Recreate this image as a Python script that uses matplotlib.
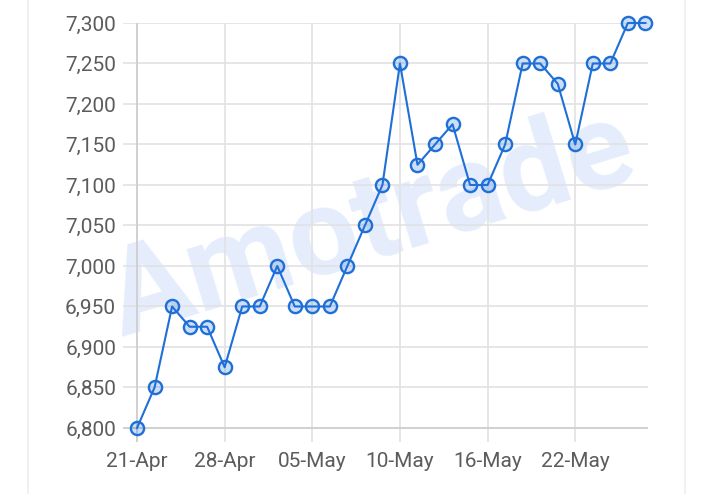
import matplotlib.pyplot as plt
from matplotlib.lines import Line2D

# closing prices, one per trading day
prices = [6800, 6850, 6950, 6925, 6925, 6875, 6950, 6950, 7000, 6950,
          6950, 6950, 7000, 7050, 7100, 7250, 7125, 7150, 7175, 7100,
          7100, 7150, 7250, 7250, 7225, 7150, 7250, 7250, 7300, 7300]
tick_idx = [0, 5, 10, 15, 20, 25]
tick_labels = ["21-Apr", "28-Apr", "05-May", "10-May", "16-May", "22-May"]
y_ticks = list(range(6800, 7301, 50))

plt.rcParams['font.family'] = ['Roboto', 'DejaVu Sans']

W, H = 715, 494
fig = plt.figure(figsize=(W / 100, H / 100), dpi=100)
ax = fig.add_axes([123 / W, 1 - 442 / H, (648 - 123) / W, (442 - 23) / H])

# card borders
for xp in (28, 685):
    fig.add_artist(Line2D([xp / W, xp / W], [0, 1], color="#eeeeee", lw=1.2,
                          transform=fig.transFigure))

ax.text(13.4, 7050, "Amotrade", fontsize=88, fontweight="bold", color="#dfe9fc",
        alpha=0.8, rotation=17, ha="center", va="center", zorder=0)

xs = list(range(len(prices)))
ax.plot(xs, prices, color="#1f6fd8", lw=1.5, marker="o", markersize=9.5,
        markerfacecolor=(0.12, 0.44, 0.85, 0.22), markeredgecolor="#1f6fd8",
        markeredgewidth=1.7, zorder=5, clip_on=False)

ax.set_xlim(-0.8, 29.15)
ax.set_ylim(6782.7, 7300)
ax.set_yticks(y_ticks)
ax.set_yticklabels([f"{v:,}" for v in y_ticks])
ax.set_xticks(tick_idx)
ax.set_xticklabels(tick_labels)
ax.tick_params(length=0, labelsize=15, labelcolor="#5c5c5c")
ax.tick_params(axis="y", pad=5)
ax.tick_params(axis="x", pad=7)
for s in ax.spines.values():
    s.set_visible(False)
ax.grid(True, color="#e2e2e2", lw=1.2, zorder=1)
ax.set_axisbelow(True)
ax.axvline(0, color="#cfcfcf", lw=1.3, zorder=1.5)
ax.axhline(6800, color="#cfcfcf", lw=1.3, zorder=1.5)

fig.savefig("out.png", dpi=100, facecolor="white")
